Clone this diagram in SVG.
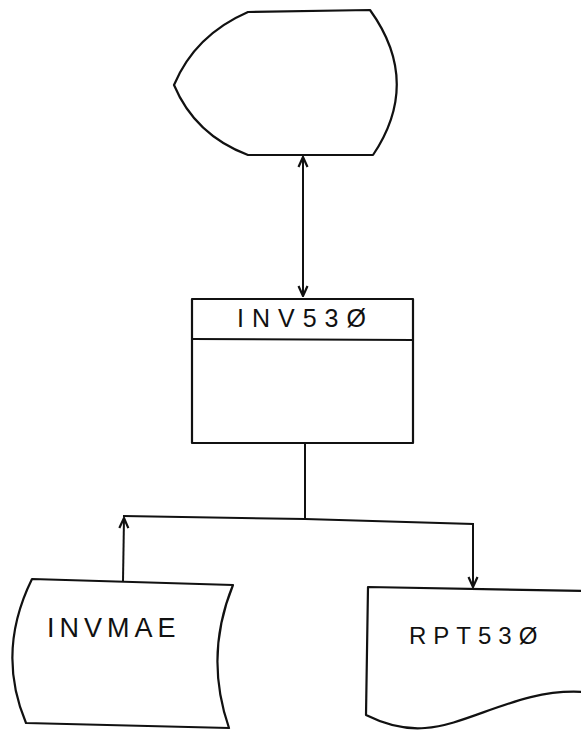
<svg xmlns="http://www.w3.org/2000/svg" width="581" height="730" viewBox="0 0 581 730">
<style>
.shape{fill:#fff;stroke:#111;stroke-width:2.2;stroke-linejoin:round}
.conn{fill:none;stroke:#111;stroke-width:2}
.lbl{font-family:"Liberation Sans",Arial,sans-serif;fill:#111}
</style>
<defs>
<marker id="ah" viewBox="0 0 12 12" refX="11" refY="6" markerWidth="12" markerHeight="12" markerUnits="userSpaceOnUse" orient="auto-start-reverse">
<path d="M1,1.5 L11,6 L1,10.5" fill="none" stroke="#111" stroke-width="2.2"/>
</marker>
</defs>
<g id="connectors">
<path class="conn" d="M303,157 L303,296" marker-start="url(#ah)" marker-end="url(#ah)"/>
<path class="conn" d="M305,443 L305,519"/>
<path class="conn" d="M123,516 L305,519 L473,524 L473,587" marker-end="url(#ah)"/>
<path class="conn" d="M123,581 L124,518" marker-end="url(#ah)"/>
</g>
<g id="display">
<path class="shape" d="M248,12 L370,10 Q422,82 373,155 L248,155 Q195,135 174,85 Q195,35 248,12 Z"/>
</g>
<g id="inv530">
<rect class="shape" x="192" y="299" width="221" height="144"/>
<line class="conn" x1="192" y1="339" x2="413" y2="340"/>
<text class="lbl" x="237" y="327" font-size="25" letter-spacing="8">INV53Ø</text>
</g>
<g id="invmae">
<path class="shape" d="M32,579 L233,585 Q204,656 229,728 L26,723 Q-4,652 32,579 Z"/>
<text class="lbl" x="47" y="637" font-size="27" letter-spacing="5">INVMAE</text>
</g>
<g id="rpt530">
<path class="shape" d="M368,587 L583,591 L583,692 C520,688 470,725 425,728 C400,730 380,722 366,715 Z"/>
<text class="lbl" x="409" y="644" font-size="24" letter-spacing="7">RPT53Ø</text>
</g>
</svg>
